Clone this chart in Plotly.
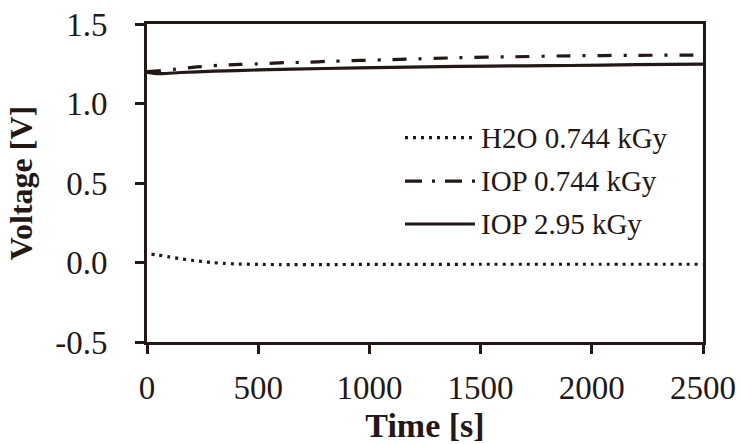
import plotly.graph_objects as go

# ---- data ----
series_names = ["H2O 0.744 kGy", "IOP 0.744 kGy", "IOP 2.95 kGy"]

t_h2o = [20, 50, 100, 150, 200, 250, 300, 350, 400, 500, 600, 800, 1000, 1500, 2000, 2500]
v_h2o = [0.052, 0.047, 0.035, 0.024, 0.014, 0.006, -0.001, -0.006, -0.009, -0.012, -0.013,
         -0.013, -0.012, -0.011, -0.011, -0.011]

t_iop744 = [0, 50, 120, 225, 320, 420, 520, 620, 720, 810, 1100, 1400, 1650, 1900, 2200, 2500]
v_iop744 = [1.200, 1.206, 1.215, 1.230, 1.240, 1.246, 1.250, 1.257, 1.259, 1.265, 1.276,
            1.288, 1.294, 1.300, 1.303, 1.305]

t_iop295 = [0, 30, 70, 150, 300, 500, 800, 1100, 1400, 1700, 1900, 2200, 2500]
v_iop295 = [1.195, 1.190, 1.188, 1.195, 1.203, 1.211, 1.220, 1.227, 1.233, 1.237, 1.239, 1.244, 1.248]

x_ticks = [0, 500, 1000, 1500, 2000, 2500]
y_ticks = [-0.5, 0.0, 0.5, 1.0, 1.5]

# ---- style ----
INK = "#231815"
SERIF = "Liberation Serif"
dashes = ["3px,5px", "14px,12px,3px,12px", "solid"]
leg_dashes = ["3px,5px", "17px,10px,3px,10px", "solid"]

fig = go.Figure()
for name, xs, ys, d in zip(series_names, [t_h2o, t_iop744, t_iop295],
                           [v_h2o, v_iop744, v_iop295], dashes):
    fig.add_trace(go.Scatter(x=xs, y=ys, mode="lines", name=name, showlegend=False,
                             line=dict(color=INK, width=3.2, dash=d, shape="spline", smoothing=0.6)))

# manual legend (paper coordinates)
leg_y = [0.643, 0.506, 0.371]
for name, yy, d in zip(series_names, leg_y, leg_dashes):
    fig.add_shape(type="line", xref="paper", yref="paper", x0=0.464, x1=0.590, y0=yy, y1=yy,
                  line=dict(color=INK, width=3.2, dash=d))
    fig.add_annotation(xref="paper", yref="paper", x=0.598, y=yy, text=name, showarrow=False,
                       xanchor="left", yanchor="middle",
                       font=dict(family=SERIF, size=29, color=INK))

fig.update_xaxes(range=[0, 2500], tickvals=x_ticks, ticktext=[str(v) for v in x_ticks],
                 ticks="outside", ticklen=9, tickwidth=3, tickcolor=INK,
                 showline=True, linewidth=3, linecolor=INK, mirror=True,
                 showgrid=False, zeroline=False, automargin=False,
                 tickfont=dict(family=SERIF, size=33, color=INK),
                 ticklabelstandoff=5,
                 title=dict(text="<b>Time [s]</b>", standoff=13,
                            font=dict(family=SERIF, size=34, color=INK)))
fig.update_yaxes(range=[-0.5, 1.5], tickvals=y_ticks, ticktext=[f"{v:.1f}" for v in y_ticks],
                 ticks="outside", ticklen=9, tickwidth=3, tickcolor=INK,
                 showline=True, linewidth=3, linecolor=INK, mirror=True,
                 showgrid=False, zeroline=False, automargin=False,
                 tickfont=dict(family=SERIF, size=33, color=INK),
                 ticklabelstandoff=21,
                 title=dict(text="<b>Voltage [V]</b>", standoff=13,
                            font=dict(family=SERIF, size=32, color=INK)))

fig.update_layout(width=740, height=444, margin=dict(l=147, r=37, t=24, b=102),
                  plot_bgcolor="white", paper_bgcolor="white", showlegend=False)

fig.write_html("out.html", config={"displayModeBar": False},
               post_script="document.body.style.margin='0px';")
